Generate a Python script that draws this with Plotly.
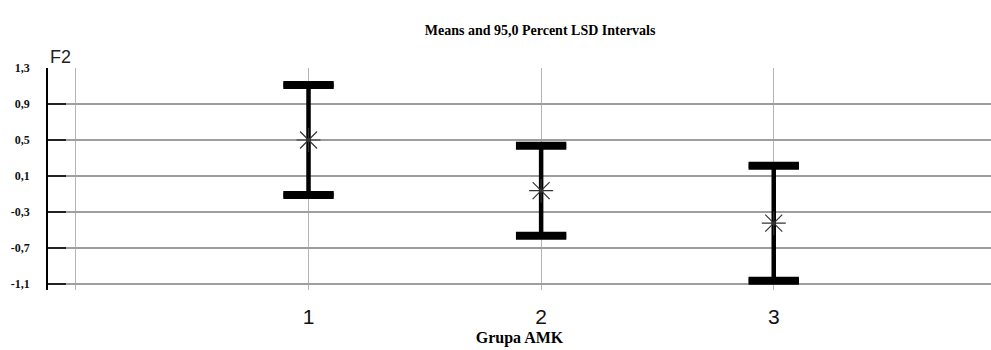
import plotly.graph_objects as go

# Group means and LSD half-widths for F2 by AMK group
groups = [1, 2, 3]
means = [0.50, -0.063, -0.424]
half_widths = [0.61, 0.50, 0.639]

ytick_vals = [1.3, 0.9, 0.5, 0.1, -0.3, -0.7, -1.1]
ytick_text = ["1,3", "0,9", "0,5", "0,1", "-0,3", "-0,7", "-1,1"]
xtick_vals = [0, 1, 2, 3]
xtick_text = ["", "1", "2", "3"]

upper = [m + h for m, h in zip(means, half_widths)]
lower = [m - h for m, h in zip(means, half_widths)]

serif = "Liberation Serif, Times New Roman, serif"
narrow = "Liberation Sans Narrow, Arial Narrow, Liberation Sans, sans-serif"

fig = go.Figure()

# interval stems with caps
fig.add_trace(go.Scatter(
    x=groups, y=means, mode="markers",
    marker=dict(size=1, color="rgba(0,0,0,0)"),
    error_y=dict(type="data", array=half_widths, symmetric=True,
                 color="black", thickness=4.5, width=25),
    showlegend=False, hoverinfo="skip",
))

# heavier cap bars at interval ends
fig.add_trace(go.Scatter(
    x=groups + groups, y=upper + lower, mode="markers",
    marker=dict(symbol="line-ew", size=36, color="black",
                line=dict(color="black", width=8)),
    showlegend=False, hoverinfo="skip",
))

# mean markers
fig.add_trace(go.Scatter(
    x=groups, y=means, mode="markers",
    marker=dict(symbol="asterisk-open", size=20, color="#333333",
                line=dict(color="#333333", width=1.2)),
    showlegend=False,
))

fig.update_layout(
    width=991, height=350,
    margin=dict(l=48, r=0, t=68, b=60),
    paper_bgcolor="white", plot_bgcolor="white",
    title=dict(text="<b>Means and 95,0 Percent LSD Intervals</b>",
               x=0.545, xanchor="center", y=0.915, yanchor="middle",
               font=dict(family=serif, size=14, color="black")),
    xaxis=dict(
        range=[-0.12, 3.934],
        tickmode="array", tickvals=xtick_vals, ticktext=xtick_text,
        showgrid=True, gridcolor="#b5b5b5", gridwidth=1,
        zeroline=False, showline=False, ticks="",
        ticklabelstandoff=12,
        tickfont=dict(family=narrow, size=21, color="#111111"),
        title=dict(text="<b>Grupa AMK</b>", standoff=4,
                   font=dict(family=serif, size=16, color="black")),
    ),
    yaxis=dict(
        range=[-1.167, 1.3],
        tickmode="array", tickvals=ytick_vals, ticktext=ytick_text,
        showgrid=True, gridcolor="#9e9e9e", gridwidth=1.6,
        zeroline=False,
        showline=True, linecolor="black", linewidth=1.5,
        ticks="inside", ticklen=18, tickwidth=2, tickcolor="#222222",
        ticklabelstandoff=14,
        tickfont=dict(family=serif, size=12, color="#111111", weight="bold"),
    ),
    annotations=[dict(
        text="F2", xref="paper", yref="paper", x=0, y=1.0,
        xanchor="left", yanchor="bottom", yshift=-1, showarrow=False,
        font=dict(family=narrow, size=18, color="#222222"),
    )],
)

fig.write_html("out.html")
